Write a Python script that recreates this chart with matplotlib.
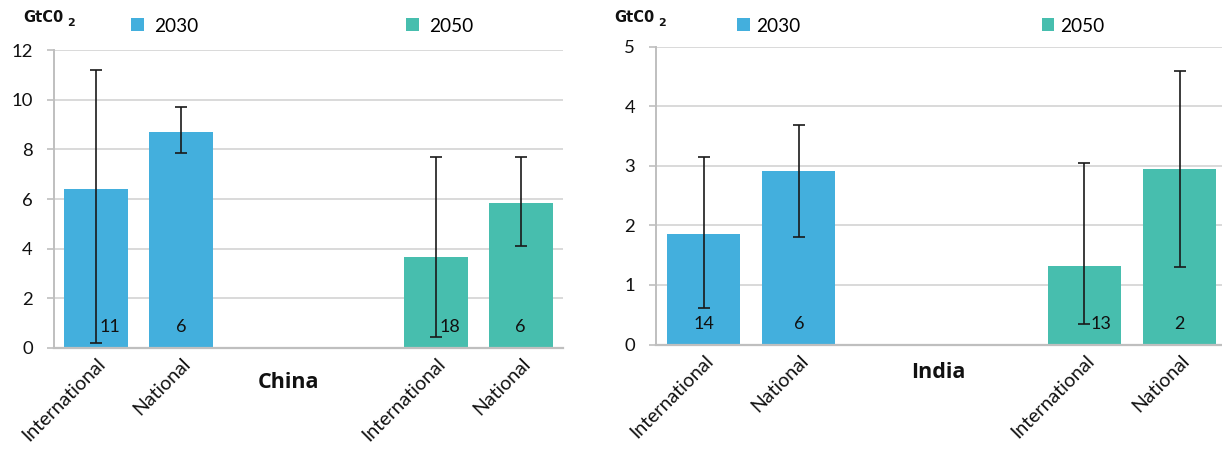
import matplotlib
matplotlib.use("Agg")
import matplotlib.pyplot as plt
from matplotlib.patches import Patch
from matplotlib.transforms import ScaledTranslation
import numpy as np

plt.rcParams['font.family'] = ['Lato', 'DejaVu Sans']
BOLD_FAMILY = ['Open Sans', 'Roboto', 'DejaVu Sans']
UNIT_FAMILY = ['DejaVu Sans']

# ---------------- data ----------------
categories = ["International", "National", "International", "National"]
years = ["2030", "2050"]

china_values = [6.4, 8.7, 3.65, 5.85]
china_err_low = [0.2, 7.85, 0.42, 4.12]
china_err_high = [11.2, 9.7, 7.7, 7.7]
china_counts = ["11", "6", "18", "6"]

india_values = [1.86, 2.92, 1.31, 2.95]
india_err_low = [0.62, 1.81, 0.34, 1.3]
india_err_high = [3.15, 3.69, 3.05, 4.6]
india_counts = ["14", "6", "13", "2"]

china_yticks = [0, 2, 4, 6, 8, 10, 12]
india_yticks = [0, 1, 2, 3, 4, 5]

# ---------------- style ----------------
C2030 = "#43AFDD"
C2050 = "#47BEAE"
bar_colors = [C2030, C2030, C2050, C2050]
positions = [0, 1, 4, 5]
GRID = "#d9d9d9"
SPINE = "#bfbfbf"

fig = plt.figure(figsize=(12.22, 4.5), dpi=100)
W, H = 1222, 450


def px_axes(l, r, top, bottom):
    return fig.add_axes([l / W, 1 - bottom / H, (r - l) / W, (bottom - top) / H])


def draw(ax, values, lo, hi, counts, yticks, ylim, xlim, width, lab_dx, title, title_x, title_y):
    ax.bar(positions, values, width=width, color=bar_colors, zorder=2)
    v = np.array(values)
    yerr = np.vstack([v - np.array(lo), np.array(hi) - v])
    ax.errorbar(positions, values, yerr=yerr, fmt="none", ecolor="#1a1a1a",
                elinewidth=1.2, capsize=4.2, capthick=1.2, zorder=3)
    ax.set_xlim(*xlim)
    ax.set_ylim(*ylim)
    ax.set_yticks(yticks)
    ax.yaxis.grid(True, color=GRID, linewidth=1.4, zorder=0)
    ax.set_axisbelow(True)
    for s in ["top", "right"]:
        ax.spines[s].set_visible(False)
    ax.spines["left"].set_color(SPINE)
    ax.spines["left"].set_linewidth(1.4)
    ax.spines["bottom"].set_color(SPINE)
    ax.spines["bottom"].set_linewidth(1.6)
    ax.tick_params(axis="y", length=5, width=1.2, color=SPINE, labelsize=13.3,
                   pad=10, labelcolor="#111111")
    ax.set_xticks(positions)
    ax.set_xticklabels(categories, rotation=45, ha="right", va="top",
                       rotation_mode="anchor", fontsize=14, color="#111111")
    ax.tick_params(axis="x", length=0, pad=0)
    off = ScaledTranslation(0.5 / 72, -5 / 72, fig.dpi_scale_trans)
    for lab in ax.get_xticklabels():
        lab.set_transform(lab.get_transform() + off)
    for p, c, dx in zip(positions, counts, lab_dx):
        ax.annotate(c, xy=(p, 0), xytext=(dx, 15), textcoords="offset points",
                    ha="center", va="center", fontsize=13, color="#111111")
    ax.text(title_x, title_y, title, transform=ax.get_xaxis_transform(),
            ha="center", va="center", fontsize=15.5, fontweight="bold",
            family=BOLD_FAMILY, color="#111111")


ax1 = px_axes(53.5, 563, 50.3, 347.7)
draw(ax1, china_values, china_err_low, china_err_high, china_counts, china_yticks,
     (0, 12), (-0.5, 5.5), 0.754, [10, 0, 10, 0], "China", 2.27, -0.116)

ax2 = px_axes(656, 1222, 46.7, 344.5)
draw(ax2, india_values, india_err_low, india_err_high, india_counts, india_yticks,
     (0, 5), (-0.5, 5.446), 0.767, [0, 0, 12, 0], "India", 2.47, -0.095)

# legends
def add_legend(ax, x_px, spacing, textpad):
    handles = [Patch(facecolor=C2030), Patch(facecolor=C2050)]
    ax.legend(handles, years, loc="center left", bbox_to_anchor=(x_px / W, 1 - 26 / H),
              bbox_transform=fig.transFigure, ncol=2, frameon=False, fontsize=13.7,
              handlelength=0.68, handleheight=0.68, handletextpad=textpad,
              columnspacing=spacing, borderpad=0, borderaxespad=0)

add_legend(ax1, 131, 10.9, 0.55)
add_legend(ax2, 737, 12.7, 0.3)

# y-axis unit labels
for x0 in (23, 614):
    t = fig.text(x0 / W, 1 - 17 / H, "GtC0", fontsize=10.5, fontweight="bold",
                 family=UNIT_FAMILY, ha="left", va="center", color="#111111")
    plt.annotate("2", xy=(1, 0.5), xycoords=t, xytext=(3, -4), textcoords="offset points",
                 fontsize=8, fontweight="bold", family=UNIT_FAMILY,
                 ha="left", va="center", color="#111111", annotation_clip=False)

fig.savefig("out.png", dpi=100)
